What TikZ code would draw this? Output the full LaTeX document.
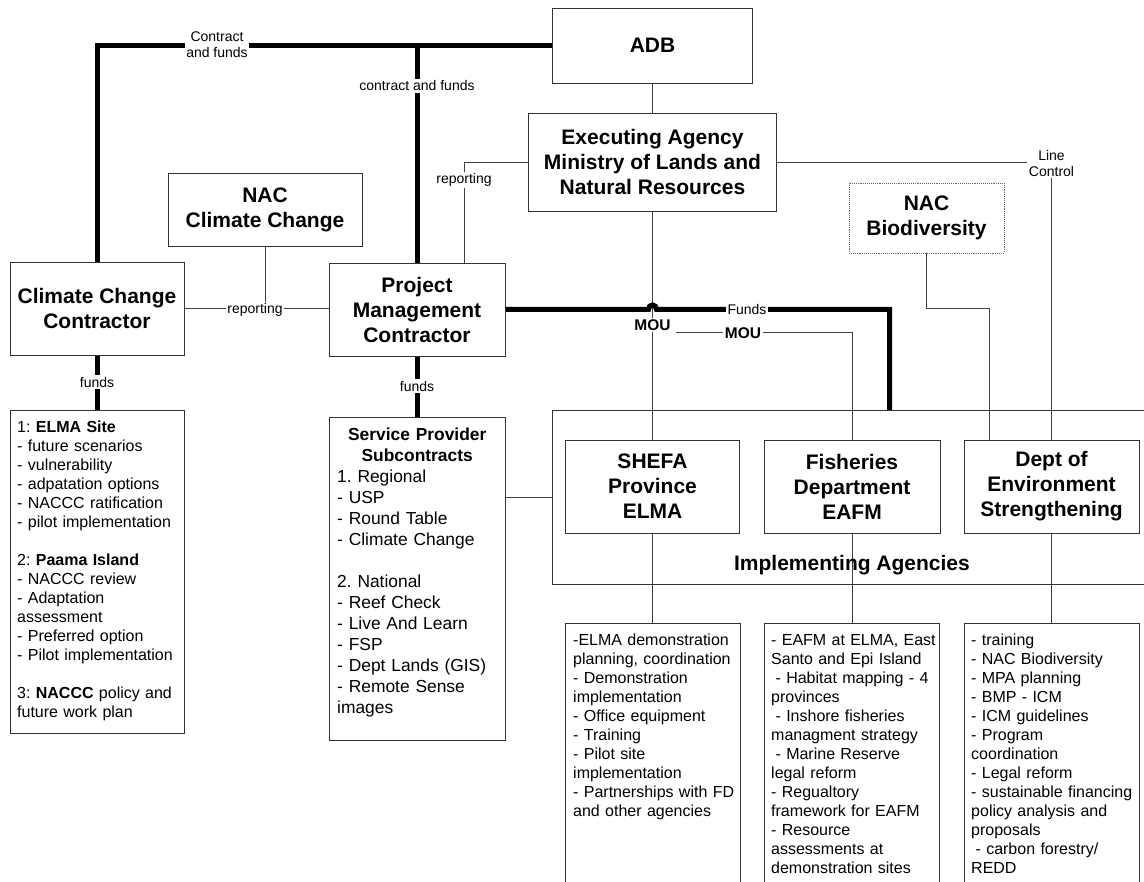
\documentclass[tikz,border=0pt]{standalone}
\usepackage{fontspec}
\setmainfont{Liberation Sans}
\usetikzlibrary{backgrounds}
\frenchspacing
\newcommand\fTitle{\bfseries\fontsize{21}{25}\selectfont}
\newcommand\fLbl{\fontsize{14}{16}\selectfont}
\newcommand\fList{\fontsize{16}{19}\selectfont}
\newcommand\fSP{\fontsize{17.4}{21}\selectfont}
\newcommand\fMou{\bfseries\fontsize{15.5}{18}\selectfont}
\tikzset{
  box/.style={draw=black!80, line width=0.9pt, inner sep=0pt, outer sep=0pt, align=center, font=\fTitle},
  thinln/.style={draw=black!75, line width=0.8pt},
  thickln/.style={draw=black, line width=5pt},
  lbl/.style={fill=white, inner sep=1.5pt, font=\fLbl, align=center},
  listtxt/.style={inner sep=0pt, anchor=north west, align=left, font=\fList},
}
\begin{document}
\begin{tikzpicture}[x=1pt,y=-1pt]
\useasboundingbox (0,0) rectangle (1144,882);
\clip (0,0) rectangle (1144,882);

% boxes
\node[box, minimum width=200pt, minimum height=75pt] (adb) at (652.5,45.5) {ADB};
\node[box, minimum width=248pt, minimum height=98pt] (ea) at (652.5,162) {Executing Agency\\Ministry of Lands and\\Natural Resources};
\node[box, minimum width=194pt, minimum height=73pt] (nacc) at (265,209.5) {NAC\\Climate Change};
\node[box, draw=black!60, densely dotted, minimum width=155pt, minimum height=70pt] (nacb) at (926.5,218) {NAC\\Biodiversity};
\node[box, minimum width=174pt, minimum height=93pt] (ccc) at (97,308.5) {Climate Change\\Contractor};
\node[box, minimum width=176pt, minimum height=93pt] (pmc) at (417,309.5) {Project\\Management\\Contractor};
\node[box, minimum width=174pt, minimum height=323pt] (elma) at (97,571.5) {};
\node[box, minimum width=176pt, minimum height=323pt] (sp) at (417,578.5) {};
\node[box, minimum width=620pt, minimum height=174pt] (impl) at (862,497) {};
\node[box, minimum width=174pt, minimum height=93pt] (shefa) at (652.5,486.5) {SHEFA\\Province\\ELMA};
\node[box, minimum width=176pt, minimum height=93pt] (fish) at (852,486.5) {Fisheries\\Department\\EAFM};
\node[box, minimum width=175pt, minimum height=93pt] (dept) at (1051.5,486.5) {Dept of\\Environment\\Strengthening};
\node[font=\fTitle, inner sep=0pt] (impllbl) at (852,565) {Implementing Agencies};
\node[box, minimum width=175pt, minimum height=327pt] (b1) at (652.5,786.5) {};
\node[box, minimum width=174.5pt, minimum height=327pt] (b2) at (852,786.5) {};
\node[box, minimum width=175pt, minimum height=327pt] (b3) at (1051.5,786.5) {};

% box texts
\node[listtxt, text width=168pt] (elmat) at (17,419.4) {\strut 1: \textbf{ELMA Site}\\- future scenarios\\- vulnerability\\- adpatation options\\- NACCC ratification\\- pilot implementation\\[19pt]2: \textbf{Paama Island}\\- NACCC review\\- Adaptation\\assessment\\- Preferred option\\- Pilot implementation\\[19pt]3: \textbf{NACCC} policy and\\future work plan};
\node[inner sep=0pt, anchor=north west, text width=160pt, font=\fSP] (spt) at (337,425.5) {\strut{\centering\bfseries Service Provider\\Subcontracts\par}\raggedright 1. Regional\\- USP\\- Round Table\\- Climate Change\\[21pt]2. National\\- Reef Check\\- Live And Learn\\- FSP\\- Dept Lands (GIS)\\- Remote Sense\\images};
\node[listtxt, text width=168pt] (b1t) at (573,632.4) {\strut -ELMA demonstration\\planning, coordination\\- Demonstration\\implementation\\- Office equipment\\- Training\\- Pilot site\\implementation\\- Partnerships with FD\\and other agencies};
\node[listtxt, text width=168pt] (b2t) at (771,632.4) {\strut - EAFM at ELMA, East\\Santo and Epi Island\\\hspace*{4.4pt}- Habitat mapping - 4\\provinces\\\hspace*{4.4pt}- Inshore fisheries\\managment strategy\\\hspace*{4.4pt}- Marine Reserve\\legal reform\\- Regualtory\\framework for EAFM\\- Resource\\assessments at\\demonstration sites};
\node[listtxt, text width=168pt] (b3t) at (971,632.4) {\strut - training\\- NAC Biodiversity\\- MPA planning\\- BMP - ICM\\- ICM guidelines\\- Program\\coordination\\- Legal reform\\- sustainable financing\\policy analysis and\\proposals\\\hspace*{4.4pt}- carbon forestry/\\REDD};

% labels
\node[lbl] (cf1) at (217,45) {Contract\\and funds};
\node[lbl] (cf2) at (417,86) {contract and funds};
\node[lbl] (rep1) at (255,310) {reporting};
\node[lbl] (rep2) at (464,180) {reporting};
\node[lbl] (lc) at (1051.5,163) {Line\\Control};
\node[lbl] (fu1) at (97,382) {funds};
\node[lbl] (fu2) at (417,386) {funds};
\node[lbl] (fu3) at (747,309.5) {Funds};
\node[lbl, font=\fMou] (mou1) at (652.5,325) {MOU};
\node[lbl, font=\fMou] (mou2) at (743,333) {MOU};

\coordinate (nb) at (989,308);
\coordinate (m2s) at (676,332);
\coordinate (fp) at (889.5,309.5);

\begin{scope}[on background layer]
% thin connectors
\draw[thinln] (adb.south) -- (ea.north);
\draw[thinln] (ea.south) -- (shefa.north);
\draw[thinln] (ea.west) -| (rep2 |- pmc.north);
\draw[thinln] (ea.east) -| (dept.north);
\draw[thinln] (nacc.south) -- (nacc.south |- rep1.north);
\draw[thinln] (ccc.east) -- (ccc.east -| pmc.west);
\draw[thinln] (nacb.south) |- (nb) -- (nb |- dept.north);
\draw[thinln] (m2s) -| (fish.north);
\draw[thinln] (sp.east |- impl.west) -- (impl.west);
\draw[thinln] (shefa.south) -- (b1.north);
\draw[thinln] (fish.south) -- (b2.north);
\draw[thinln] (dept.south) -- (b3.north);
% thick connectors
\draw[thickln] (adb.west) -| (ccc.north);
\draw[thickln] (pmc.north |- adb.west) -- (pmc.north);
\draw[thickln] (ccc.south) -- (elma.north);
\draw[thickln] (pmc.south) -- (sp.north);
\draw[thickln] (pmc.east) -- (648.5,309.5) .. controls (648.5,303.5) and (656.5,303.5) .. (656.5,309.5) -- (fp) -- (fp |- impl.north);
\end{scope}
\end{tikzpicture}
\end{document}
